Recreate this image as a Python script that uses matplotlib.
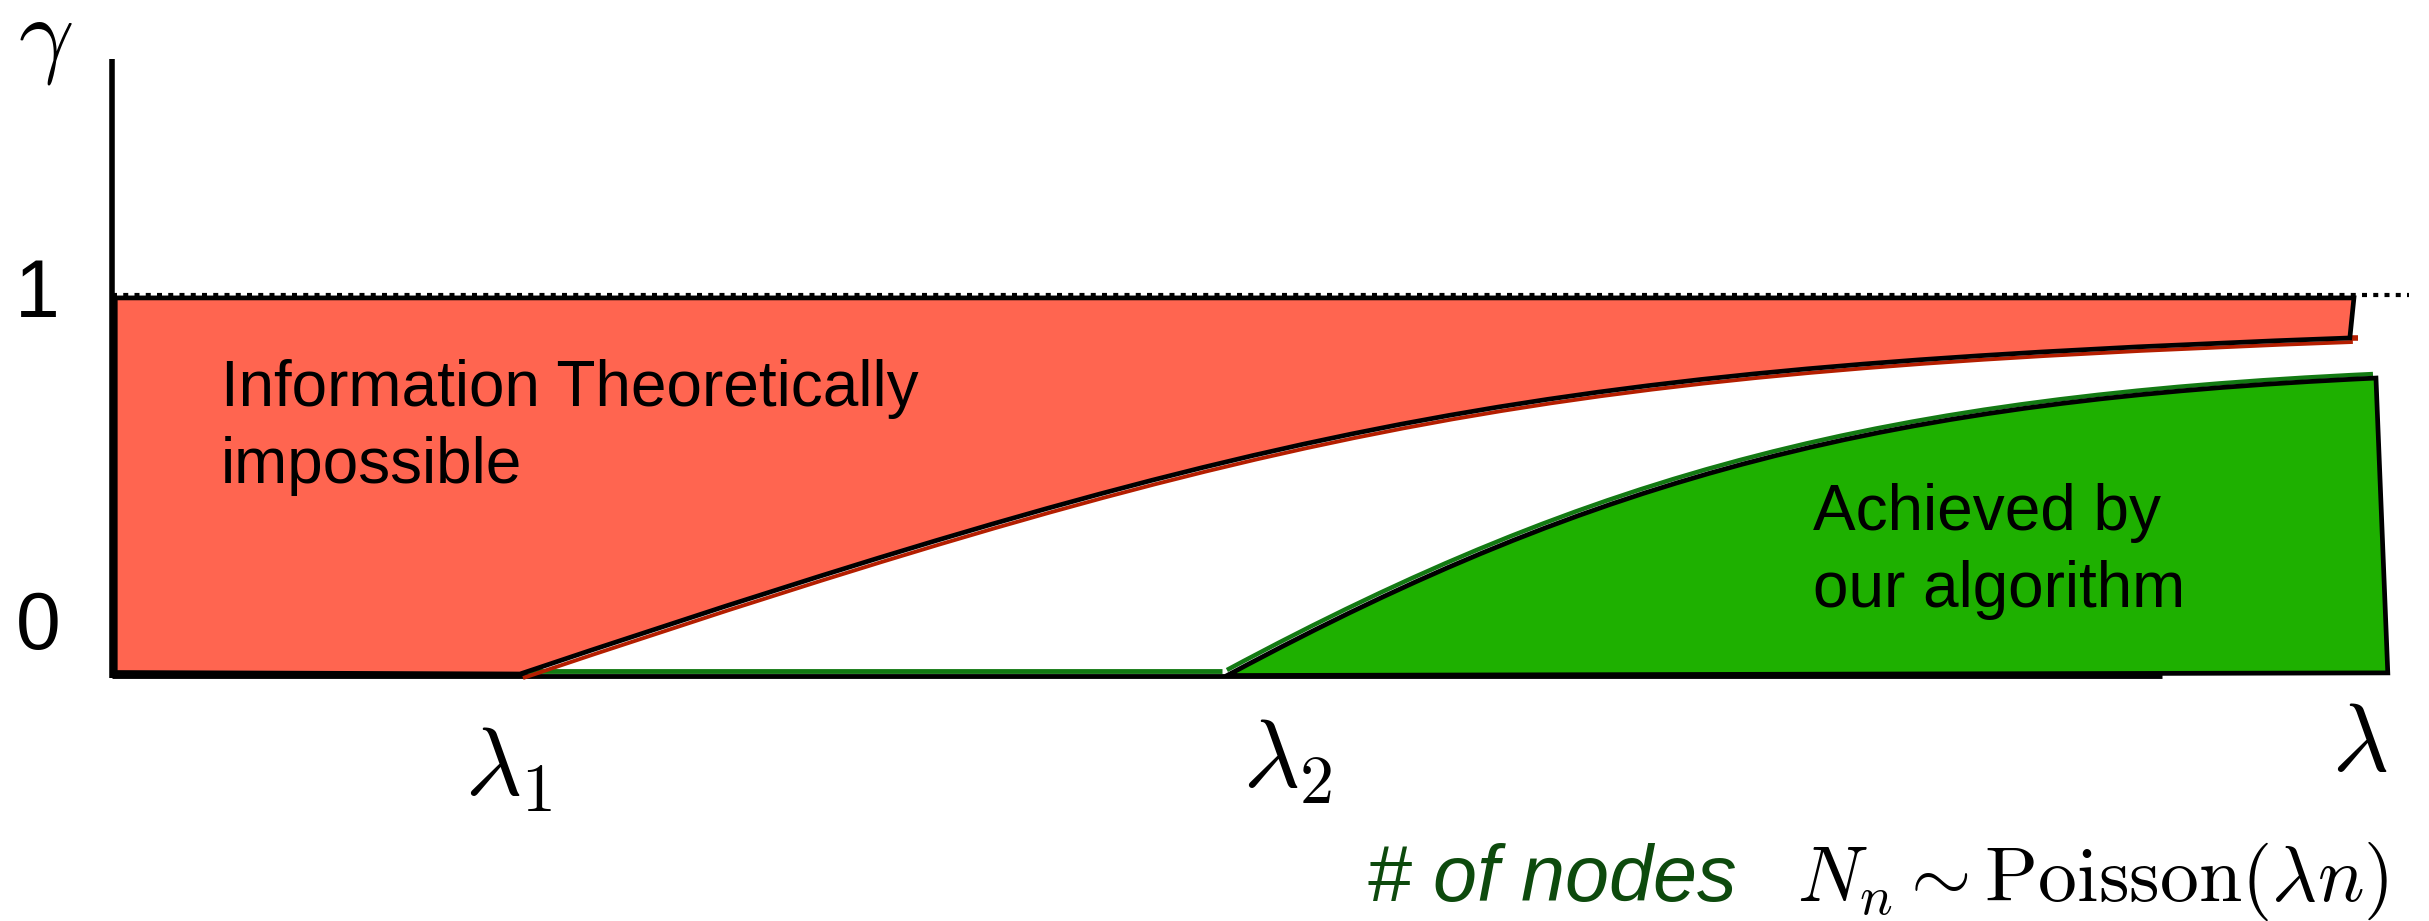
import matplotlib
matplotlib.use('Agg')
import matplotlib.pyplot as plt
from matplotlib.path import Path
from matplotlib.patches import PathPatch
from matplotlib.transforms import offset_copy

plt.rcParams['mathtext.fontset'] = 'cm'
plt.rcParams['font.family'] = ['Liberation Sans', 'DejaVu Sans']

# 閾值位置 (λ 軸, 任意單位)
lam1 = 1.0
lam2 = 2.74
lam_max = 5.63

# 資訊理論下界曲線: 三次 Bezier 的端點與控制點
red_ctrl_x = [1.0, 2.895, 3.523, 5.485]
red_ctrl_y = [0.0, 0.686, 0.811, 0.889]
red_top_right = (5.495, 0.995)

# 演算法可達曲線: 三次 Bezier 的端點與控制點
green_ctrl_x = [2.74, 3.650, 4.352, 5.549]
green_ctrl_y = [0.0, 0.527, 0.723, 0.783]
green_bottom_right = (5.578, 0.003)

RED_FILL = '#ff6550'
RED_LINE = '#b41e00'
GREEN_FILL = '#1eb000'
GREEN_LINE = '#137a13'
EDGE_LW = 3.4

C4 = [Path.CURVE4] * 3

fig = plt.figure(figsize=(24.29, 9.21), dpi=100)
ax = fig.add_axes([0, 0, 1, 1])
ax.set_xlim(-0.2745, 5.679)
ax.set_ylim(-0.6534, 1.7831)
ax.axis('off')

# x 軸 (大部分被區塊邊框蓋住)
ax.plot([0, 5.025], [-0.006, -0.006], color='black', lw=3.5, solid_capstyle='butt', zorder=1)
ax.plot([0, lam2 - 0.02], [0.008, 0.008], color=GREEN_LINE, lw=3.5, solid_capstyle='butt', zorder=2)

# 紅色區塊: 資訊理論上不可能
red_pts = list(zip(red_ctrl_x, red_ctrl_y))
red_verts = [(0.008, 0.004)] + red_pts + [red_top_right, (0.008, 0.995), (0.008, 0.004)]
red_codes = [Path.MOVETO, Path.LINETO] + C4 + [Path.LINETO, Path.LINETO, Path.CLOSEPOLY]
red_path = Path(red_verts, red_codes)
ax.add_patch(PathPatch(red_path, facecolor=RED_FILL, edgecolor='none', zorder=3))
red_curve = Path(red_pts, [Path.MOVETO] + C4)
ax.add_patch(PathPatch(red_curve, fill=False, edgecolor=RED_LINE, lw=2.8, zorder=4,
                       transform=offset_copy(ax.transData, fig, x=3, y=-4, units='dots')))
ax.plot([red_ctrl_x[-1], red_ctrl_x[-1] + 0.02], [red_ctrl_y[-1]] * 2, color=RED_LINE, lw=4,
        solid_capstyle='butt', zorder=4)
ax.add_patch(PathPatch(red_path, fill=False, edgecolor='black', lw=EDGE_LW, joinstyle='miter', zorder=5))

# 綠色區塊: 本演算法可達
green_pts = list(zip(green_ctrl_x, green_ctrl_y))
green_verts = green_pts + [green_bottom_right, (lam2 + 0.01, -0.004), green_pts[0]]
green_codes = [Path.MOVETO] + C4 + [Path.LINETO, Path.LINETO, Path.CLOSEPOLY]
green_path = Path(green_verts, green_codes)
ax.add_patch(PathPatch(green_path, facecolor=GREEN_FILL, edgecolor='none', zorder=3))
green_curve = Path(green_pts, [Path.MOVETO] + C4)
ax.add_patch(PathPatch(green_curve, fill=False, edgecolor=GREEN_LINE, lw=3.2, zorder=4,
                       transform=offset_copy(ax.transData, fig, x=-3, y=4, units='dots')))
ax.add_patch(PathPatch(green_path, fill=False, edgecolor='black', lw=EDGE_LW, joinstyle='miter', zorder=5))

# 縱軸與 γ = 1 虛線
ax.plot([0, 0], [-0.01, 1.627], color='black', lw=4, solid_capstyle='butt', zorder=6)
ax.plot([0, lam_max], [1.004, 1.004], color='black', lw=3, linestyle=(0, (1.2, 1.5)), zorder=6)

# 刻度文字
ax.text(-0.184, 1.0, '1', fontsize=58, ha='center', va='center')
ax.text(-0.181, 0.122, '0', fontsize=58, ha='center', va='center')
ax.text(-0.164, 1.672, r'$\gamma$', fontsize=70, ha='center', va='center')
ax.text(0.971, -0.254, r'$\lambda_1$', fontsize=70, ha='center', va='center')
ax.text(2.882, -0.233, r'$\lambda_2$', fontsize=70, ha='center', va='center')
ax.text(5.510, -0.190, r'$\lambda$', fontsize=70, ha='center', va='center')

# 區塊說明 (baseline 對齊最後一行)
ax.text(0.267, 0.505, 'Information Theoretically\nimpossible', fontsize=46,
        ha='left', va='baseline', linespacing=1.36, zorder=7)
ax.text(4.169, 0.177, 'Achieved by\nour algorithm', fontsize=46,
        ha='left', va='baseline', linespacing=1.36, zorder=7)

# 橫軸說明
ax.text(3.076, -0.600, '# of nodes', fontsize=57, style='italic', color='#0d4a0d',
        ha='left', va='baseline')
ax.text(4.130, -0.600, r'$N_n \sim \mathrm{Poisson}(\lambda n)$', fontsize=56,
        ha='left', va='baseline')

fig.savefig('out.png', dpi=100, facecolor='white')
